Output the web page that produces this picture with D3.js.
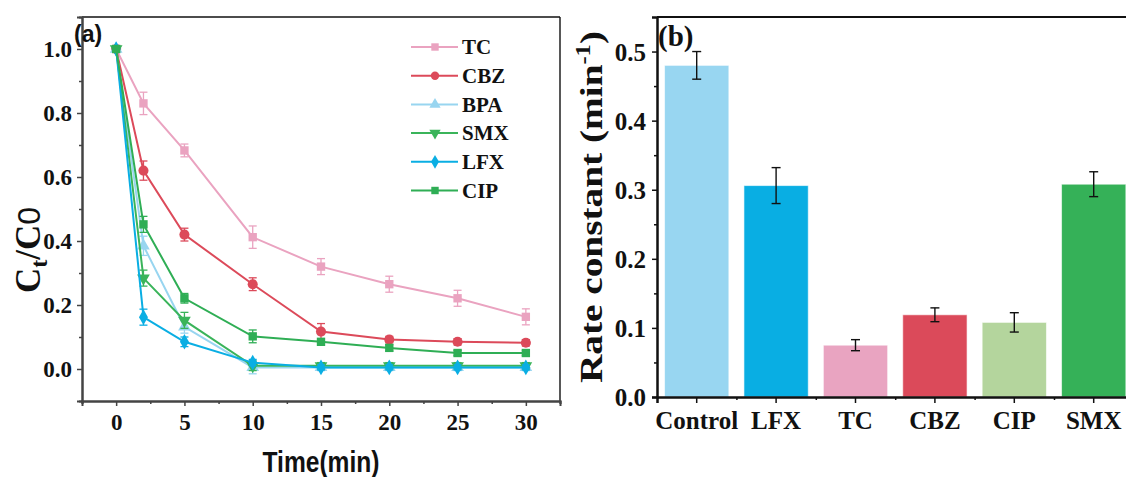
<!DOCTYPE html>
<html>
<head>
<meta charset="utf-8">
<script src="https://cdn.jsdelivr.net/npm/d3@7"></script>
<style>
  body { margin: 0; background: #fff; }
  svg text { font-family: "Liberation Serif", "Times New Roman", serif; font-weight: bold; fill: #111; }
</style>
</head>
<body>
<div class="chart"></div>
<script>
// ---- data, panel (a)
var times = [0, 2, 5, 10, 15, 20, 25, 30];
var seriesNames = ["TC", "CBZ", "BPA", "SMX", "LFX", "CIP"];
var tcVals  = [1.0, 0.830, 0.683, 0.412, 0.320, 0.265, 0.221, 0.163];
var cbzVals = [1.0, 0.620, 0.420, 0.265, 0.117, 0.092, 0.085, 0.082];
var bpaVals = [1.0, 0.385, 0.132, 0.005, 0.005, 0.005, 0.005, 0.005];
var smxVals = [1.0, 0.284, 0.152, 0.010, 0.010, 0.010, 0.010, 0.010];
var lfxVals = [1.0, 0.162, 0.085, 0.020, 0.005, 0.005, 0.005, 0.005];
var cipVals = [1.0, 0.452, 0.221, 0.102, 0.085, 0.066, 0.050, 0.050];
var tcErr  = [0, 0.035, 0.020, 0.035, 0.025, 0.025, 0.025, 0.025];
var cbzErr = [0, 0.030, 0.020, 0.020, 0.025, 0.010, 0.010, 0.010];
var bpaErr = [0, 0.030, 0.020, 0.020, 0.010, 0.010, 0.010, 0.010];
var smxErr = [0, 0.025, 0.025, 0.015, 0.010, 0.010, 0.010, 0.010];
var lfxErr = [0, 0.025, 0.015, 0.010, 0.008, 0.008, 0.008, 0.008];
var cipErr = [0, 0.025, 0.015, 0.020, 0.008, 0.010, 0.008, 0.008];
var xTicksA = [0, 5, 10, 15, 20, 25, 30];
var yTicksA = [0.0, 0.2, 0.4, 0.6, 0.8, 1.0];

// ---- data, panel (b)
var categories = ["Control", "LFX", "TC", "CBZ", "CIP", "SMX"];
var rates = [0.480, 0.306, 0.075, 0.119, 0.108, 0.308];
var rateErr = [0.020, 0.026, 0.008, 0.010, 0.014, 0.018];
var yTicksB = [0.0, 0.1, 0.2, 0.3, 0.4, 0.5];

var colors = {TC: "#eaa3c0", CBZ: "#dc4a5a", BPA: "#98d5f0", SMX: "#3ab45a", LFX: "#0aaee3", CIP: "#2fae55"};
var barColors = ["#98d6f1", "#09aee3", "#e9a4c1", "#db4a5a", "#b4d59d", "#35b158"];
var symbols = {
  TC: d3.symbolSquare, CBZ: d3.symbolCircle, BPA: d3.symbolTriangle,
  SMX: d3.symbolTriangle, LFX: d3.symbolDiamond, CIP: d3.symbolSquare
};
var series = [
  {name: "TC", v: tcVals, e: tcErr},
  {name: "CBZ", v: cbzVals, e: cbzErr},
  {name: "BPA", v: bpaVals, e: bpaErr},
  {name: "SMX", v: smxVals, e: smxErr},
  {name: "LFX", v: lfxVals, e: lfxErr},
  {name: "CIP", v: cipVals, e: cipErr}
];

var svg = d3.select(".chart").append("svg")
    .attr("width", 1126)
    .attr("height", 477);
svg.append("rect").attr("width", 1126).attr("height", 477).attr("fill", "#fff");

// ================= panel (a)
var xA = d3.scaleLinear().domain([-2.5, 32.5]).range([82, 560]);
var yA = d3.scaleLinear().domain([-0.1, 1.1]).range([401, 17]);
var ga = svg.append("g");

// frame
ga.append("line").attr("x1", 82).attr("x2", 560).attr("y1", 17).attr("y2", 17).attr("stroke", "#111").attr("stroke-width", 1.6);
ga.append("line").attr("x1", 560).attr("x2", 560).attr("y1", 17).attr("y2", 401).attr("stroke", "#111").attr("stroke-width", 1.4);

var xAxisA = ga.append("g").attr("transform", "translate(0,401)")
    .call(d3.axisBottom(xA).tickValues(xTicksA).tickSize(5).tickPadding(8).tickFormat(d3.format("d")));
var xMinorA = ga.append("g").attr("transform", "translate(0,401)")
    .call(d3.axisBottom(xA).tickValues(d3.range(-2.5, 33, 5)).tickSize(3).tickFormat(""));
var yAxisA = ga.append("g").attr("transform", "translate(82,0)")
    .call(d3.axisLeft(yA).tickValues(yTicksA).tickSize(5).tickPadding(5).tickFormat(d3.format(".1f")));
var yMinorA = ga.append("g").attr("transform", "translate(82,0)")
    .call(d3.axisLeft(yA).tickValues([0.1, 0.3, 0.5, 0.7, 0.9]).tickSize(3).tickFormat(""));
[xAxisA, xMinorA, yAxisA, yMinorA].forEach(function (a) {
  a.selectAll("path").attr("stroke", "#444").attr("stroke-width", 2);
  a.selectAll("line").attr("stroke", "#444").attr("stroke-width", 1.5);
  a.selectAll("text").attr("font-size", 23).attr("fill", "#111")
    .style("font-family", "'Liberation Serif', serif").style("font-weight", "bold");
});
yAxisA.selectAll("text").attr("dy", "0.34em");

// series: line, error bars, markers
var lineA = d3.line().x(function (d, i) { return xA(times[i]); }).y(function (d) { return yA(d); });
series.forEach(function (s) {
  var c = colors[s.name];
  var g = ga.append("g");
  g.append("path").datum(s.v).attr("d", lineA).attr("fill", "none").attr("stroke", c).attr("stroke-width", 2);
  s.v.forEach(function (d, i) {
    if (s.e[i] <= 0) return;
    var x = xA(times[i]), y1 = yA(d + s.e[i]), y2 = yA(d - s.e[i]);
    g.append("line").attr("x1", x).attr("x2", x).attr("y1", y1).attr("y2", y2).attr("stroke", c).attr("stroke-width", 1.3);
    g.append("line").attr("x1", x - 4).attr("x2", x + 4).attr("y1", y1).attr("y2", y1).attr("stroke", c).attr("stroke-width", 1.3);
    g.append("line").attr("x1", x - 4).attr("x2", x + 4).attr("y1", y2).attr("y2", y2).attr("stroke", c).attr("stroke-width", 1.3);
  });
  g.selectAll(".mk").data(s.v).enter().append("path")
    .attr("d", d3.symbol().type(symbols[s.name]).size(s.name === "CBZ" ? 80 : 70))
    .attr("transform", function (d, i) {
      return "translate(" + xA(times[i]) + "," + yA(d) + ")" + (s.name === "SMX" ? " rotate(180)" : "");
    })
    .attr("fill", c);
});

// legend
var legend = ga.append("g");
seriesNames.forEach(function (n, i) {
  var y = 47 + i * 28.7;
  var c = colors[n];
  legend.append("line").attr("x1", 411).attr("x2", 458).attr("y1", y).attr("y2", y).attr("stroke", c).attr("stroke-width", 2);
  legend.append("path").attr("d", d3.symbol().type(symbols[n]).size(55)())
    .attr("transform", "translate(435," + y + ")" + (n === "SMX" ? " rotate(180)" : "")).attr("fill", c);
  legend.append("text").attr("x", 462).attr("y", y).attr("dy", "0.35em").attr("font-size", 21).text(n);
});

// labels (a)
ga.append("text").attr("x", 74).attr("y", 42).attr("font-size", 23)
  .style("font-family", "'Liberation Sans', Arial, sans-serif").text("(a)");
ga.append("text").attr("x", 321).attr("y", 472).attr("text-anchor", "middle").attr("font-size", 30)
  .attr("textLength", 117).attr("lengthAdjust", "spacingAndGlyphs")
  .style("font-family", "'Liberation Sans', Arial, sans-serif").text("Time(min)");
var yTitleA = ga.append("text").attr("transform", "translate(40,250) rotate(-90)")
  .attr("text-anchor", "middle").attr("font-size", 35);
yTitleA.append("tspan").text("C");
yTitleA.append("tspan").attr("font-size", 24).attr("dy", 7).text("t");
yTitleA.append("tspan").attr("dy", -7).text("/C");
yTitleA.append("tspan").attr("font-size", 32).style("font-family", "'Liberation Sans', sans-serif")
  .style("font-weight", "normal").text("0");

// ================= panel (b)
var x0 = 657, step = 79.4;
var xB = d3.scaleBand().domain(categories).range([x0, x0 + step * categories.length])
    .paddingInner(0.19).paddingOuter(0.095);
var yB = d3.scaleLinear().domain([0, 0.55]).range([397, 17]);
var gb = svg.append("g");

gb.append("line").attr("x1", x0).attr("x2", 1126).attr("y1", 17).attr("y2", 17).attr("stroke", "#111").attr("stroke-width", 1.8);

gb.selectAll(".bar").data(rates).enter().append("rect")
  .attr("x", function (d, i) { return xB(categories[i]); })
  .attr("y", function (d) { return yB(d); })
  .attr("width", xB.bandwidth())
  .attr("height", function (d) { return yB(0) - yB(d); })
  .attr("fill", function (d, i) { return barColors[i]; })
  .attr("stroke", "#fff").attr("stroke-opacity", 0.6).attr("stroke-width", 1);

rates.forEach(function (d, i) {
  var x = xB(categories[i]) + xB.bandwidth() / 2;
  var y1 = yB(d + rateErr[i]), y2 = yB(d - rateErr[i]);
  gb.append("line").attr("x1", x).attr("x2", x).attr("y1", y1).attr("y2", y2).attr("stroke", "#111").attr("stroke-width", 1.4);
  gb.append("line").attr("x1", x - 4.5).attr("x2", x + 4.5).attr("y1", y1).attr("y2", y1).attr("stroke", "#111").attr("stroke-width", 1.4);
  gb.append("line").attr("x1", x - 4.5).attr("x2", x + 4.5).attr("y1", y2).attr("y2", y2).attr("stroke", "#111").attr("stroke-width", 1.4);
});

var xAxisB = gb.append("g").attr("transform", "translate(0,397)")
    .call(d3.axisBottom(xB).tickSize(6).tickPadding(8));
var xMinorB = gb.append("g").attr("transform", "translate(0,397)")
    .call(d3.axisBottom(d3.scaleLinear().domain([0, 6]).range([x0, x0 + step * 6]))
      .tickValues([1, 2, 3, 4, 5]).tickSize(3).tickFormat(""));
var yAxisB = gb.append("g").attr("transform", "translate(" + x0 + ",0)")
    .call(d3.axisLeft(yB).tickValues(yTicksB).tickSize(5).tickPadding(6).tickFormat(d3.format(".1f")));
var yMinorB = gb.append("g").attr("transform", "translate(" + x0 + ",0)")
    .call(d3.axisLeft(yB).tickValues([0.05, 0.15, 0.25, 0.35, 0.45]).tickSize(3).tickFormat(""));
[xAxisB, xMinorB, yAxisB, yMinorB].forEach(function (a) {
  a.selectAll("path").attr("stroke", "#111").attr("stroke-width", 2.5);
  a.selectAll("line").attr("stroke", "#111").attr("stroke-width", 1.5);
  a.selectAll("text").attr("font-size", 25).attr("fill", "#111")
    .style("font-family", "'Liberation Serif', serif").style("font-weight", "bold");
});
yAxisB.selectAll("text").attr("dy", "0.34em");
xMinorB.select("path").remove();
yMinorB.select("path").remove();

gb.append("text").attr("x", 658).attr("y", 46).attr("font-size", 29).text("(b)");
var yTitleB = gb.append("text").attr("transform", "translate(602,207) rotate(-90)")
  .attr("text-anchor", "middle").attr("font-size", 32)
  .attr("textLength", 352).attr("lengthAdjust", "spacingAndGlyphs");
yTitleB.append("tspan").text("Rate constant (min");
yTitleB.append("tspan").attr("font-size", 20).attr("dy", -12).text("-1");
yTitleB.append("tspan").attr("dy", 12).text(")");
</script>
</body>
</html>
